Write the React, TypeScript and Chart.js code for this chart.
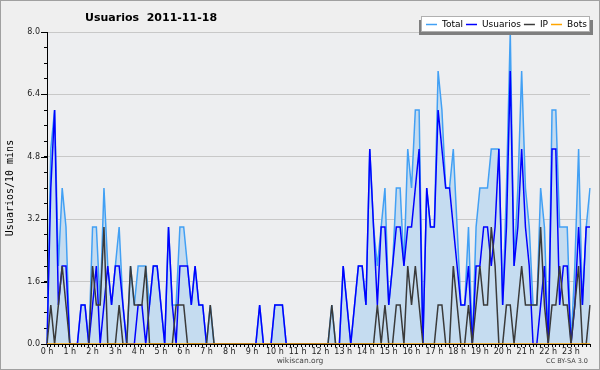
import React, { useEffect, useRef } from 'react';
import { Chart, registerables } from 'chart.js';

Chart.register(...registerables);

const chartTitle = 'Usuarios  2011-11-18';
const yTitle = 'Usuarios/10 mins';
const hours = ['0 h','1 h','2 h','3 h','4 h','5 h','6 h','7 h','8 h','9 h','10 h','11 h','12 h','13 h','14 h','15 h','16 h','17 h','18 h','19 h','20 h','21 h','22 h','23 h'];
const minutes = ['00','10','20','30','40','50'];
const slots = hours.flatMap((_, h) => minutes.map((m) => `${h}:${m}`));
const yTickLabels = ['0.0','1.6','3.2','4.8','6.4','8.0'];
const yMajorValues = [0, 1.6, 3.2, 4.8, 6.4, 8.0];

const total = [
  0,5,6,2,4,3,0,0,0,1,
  1,0,3,3,1,4,2,1,2,3,
  1,0,2,1,2,2,2,1,2,2,
  1,0,3,1,1,3,3,2,1,2,
  1,1,0,1,0,0,0,0,0,0,
  0,0,0,0,0,0,1,0,0,0,
  1,1,1,0,0,0,0,0,0,0,
  0,0,0,0,0,1,0,0,2,1,
  0,1,2,2,1,5,3,2,3,4,
  1,2,4,4,2,5,4,6,6,0,
  4,3,3,7,6,4,4,5,3,1,
  1,3,0,3,4,4,4,5,5,5,
  1,4,8,2,4,7,4,3,1,1,
  4,3,0,6,6,3,3,3,0,2,
  5,1,3,4,
];

const usuarios = [
  0,4,6,1,2,2,0,0,0,1,
  1,0,1,2,0,1,2,1,2,2,
  1,0,0,0,1,1,0,1,2,2,
  1,0,3,1,0,2,2,2,1,2,
  1,1,0,0,0,0,0,0,0,0,
  0,0,0,0,0,0,1,0,0,0,
  1,1,1,0,0,0,0,0,0,0,
  0,0,0,0,0,0,0,0,2,1,
  0,1,2,2,1,5,3,1,3,3,
  1,2,3,3,2,3,3,4,5,0,
  4,3,3,6,5,4,4,3,2,1,
  1,2,0,2,2,3,3,2,3,5,
  1,3,7,2,3,5,3,2,0,0,
  1,2,0,5,5,1,2,2,0,1,
  3,1,3,3,
];

const ip = [
  0,1,0,1,2,1,0,0,0,0,
  0,0,2,1,1,3,0,0,0,1,
  0,0,2,1,1,1,2,0,0,0,
  0,0,0,0,1,1,1,0,0,0,
  0,0,0,1,0,0,0,0,0,0,
  0,0,0,0,0,0,0,0,0,0,
  0,0,0,0,0,0,0,0,0,0,
  0,0,0,0,0,1,0,0,0,0,
  0,0,0,0,0,0,0,1,0,1,
  0,0,1,1,0,2,1,2,1,0,
  0,0,0,1,1,0,0,2,1,0,
  0,1,0,1,2,1,1,3,2,0,
  0,1,1,0,1,2,1,1,1,1,
  3,1,0,1,1,2,1,1,0,1,
  2,0,0,1,
];

const bots = [
  0,0,0,0,0,0,0,0,0,0,
  0,0,0,0,0,0,0,0,0,0,
  0,0,0,0,0,0,0,0,0,0,
  0,0,0,0,0,0,0,0,0,0,
  0,0,0,0,0,0,0,0,0,0,
  0,0,0,0,0,0,0,0,0,0,
  0,0,0,0,0,0,0,0,0,0,
  0,0,0,0,0,0,0,0,0,0,
  0,0,0,0,0,0,0,0,0,0,
  0,0,0,0,0,0,0,0,0,0,
  0,0,0,0,0,0,0,0,0,0,
  0,0,0,0,0,0,0,0,0,0,
  0,0,0,0,0,0,0,0,0,0,
  0,0,0,0,0,0,0,0,0,0,
  0,0,0,0,
];

const FONT = '"DejaVu Sans", sans-serif';

const framePlugin = {
  id: 'frame',
  beforeDraw(chart: any) {
    const { ctx, width, height, chartArea: a } = chart;
    ctx.save();
    ctx.fillStyle = '#efefef';
    ctx.fillRect(0, 0, width, height);
    ctx.fillStyle = '#edeef0';
    ctx.fillRect(a.left, a.top, a.right - a.left, a.bottom - a.top);
    ctx.strokeStyle = '#a0a0a0';
    ctx.lineWidth = 1;
    ctx.strokeRect(0.5, 0.5, width - 1, height - 1);
    ctx.restore();
  },
  afterDraw(chart: any) {
    const { ctx, width, chartArea: a } = chart;
    const yScale = chart.scales.y;
    ctx.save();
    // longer major tick marks on the y axis
    ctx.strokeStyle = '#000';
    ctx.lineWidth = 1;
    yMajorValues.forEach((v) => {
      const py = Math.round(yScale.getPixelForValue(v)) + 0.5;
      ctx.beginPath();
      ctx.moveTo(a.left - 6, py);
      ctx.lineTo(a.left, py);
      ctx.stroke();
    });
    // title
    ctx.fillStyle = '#000';
    ctx.font = `bold 11px ${FONT}`;
    ctx.textAlign = 'left';
    ctx.textBaseline = 'alphabetic';
    ctx.fillText(chartTitle, 85, 20.5);
    // y title
    ctx.save();
    ctx.translate(10, 188);
    ctx.rotate(-Math.PI / 2);
    ctx.font = '10px "DejaVu Sans Mono", monospace';
    ctx.textAlign = 'center';
    ctx.textBaseline = 'middle';
    ctx.fillStyle = '#000';
    ctx.fillText(yTitle, 0, 0);
    ctx.restore();
    // legend
    ctx.fillStyle = '#7f7f7f';
    ctx.fillRect(419, 20, 174, 15);
    ctx.fillStyle = '#ffffff';
    ctx.fillRect(422, 17, 167, 14.5);
    ctx.strokeStyle = '#b0b0b0';
    ctx.strokeRect(421.5, 16.5, 168, 15);
    ctx.font = `9px ${FONT}`;
    ctx.textBaseline = 'middle';
    ctx.textAlign = 'left';
    let x = 426;
    chart.data.datasets.forEach((ds: any) => {
      ctx.strokeStyle = ds.borderColor;
      ctx.lineWidth = 1.5;
      ctx.beginPath();
      ctx.moveTo(x, 24.5);
      ctx.lineTo(x + 11, 24.5);
      ctx.stroke();
      x += 16;
      ctx.fillStyle = '#000';
      ctx.fillText(ds.label, x, 24.5);
      x += ctx.measureText(ds.label).width + 3;
    });
    // footer
    ctx.fillStyle = '#444';
    ctx.font = `7.5px ${FONT}`;
    ctx.textAlign = 'center';
    ctx.fillText('wikiscan.org', width / 2, 361);
    ctx.font = `6.5px ${FONT}`;
    ctx.textAlign = 'right';
    ctx.fillText('CC BY-SA 3.0', 588, 361);
    ctx.restore();
  },
};

export default function App() {
  const ref = useRef<HTMLCanvasElement | null>(null);
  useEffect(() => {
    if (!ref.current) return;
    const chart = new Chart(ref.current, {
      type: 'line',
      data: {
        labels: slots,
        datasets: [
          { label: 'Total', data: total, borderColor: '#42a0f4', backgroundColor: '#c5dcf0', fill: 'origin', borderWidth: 1.5, pointRadius: 0, tension: 0, order: 4 },
          { label: 'Usuarios', data: usuarios, borderColor: '#0000ff', borderWidth: 1.5, pointRadius: 0, tension: 0, fill: false, order: 3 },
          { label: 'IP', data: ip, borderColor: '#3a3a3a', borderWidth: 1.5, pointRadius: 0, tension: 0, fill: false, order: 2 },
          { label: 'Bots', data: bots, borderColor: '#ffa500', borderWidth: 1.5, pointRadius: 0, tension: 0, fill: false, order: 1 },
        ],
      },
      options: {
        responsive: false,
        animation: false,
        devicePixelRatio: 1,
        layout: { padding: { top: 32, right: 10, left: 0, bottom: 0 } },
        plugins: { legend: { display: false }, title: { display: false }, tooltip: { enabled: false } },
        scales: {
          x: {
            type: 'category',
            offset: false,
            z: 1,
            afterFit: (s: any) => { s.height = 26; },
            grid: { display: true, drawOnChartArea: false, drawTicks: true, tickLength: 3, tickColor: '#000' },
            border: { display: true, color: '#000', width: 1 },
            ticks: {
              autoSkip: false,
              maxRotation: 0,
              minRotation: 0,
              padding: 0,
              color: '#222',
              font: { family: '"DejaVu Sans"', size: 8 },
              callback: (_v: any, index: number) => (index % 6 === 0 ? hours[index / 6] : ''),
            },
          },
          y: {
            min: 0,
            max: 8,
            afterFit: (s: any) => { s.width = 47; },
            grid: {
              drawTicks: true,
              tickLength: 3,
              tickColor: '#000',
              color: (c: any) => {
                const k = Math.round(Number(c.tick?.value ?? 0) / 0.4);
                return k % 4 === 0 && k > 0 ? '#c8c8c8' : 'rgba(0,0,0,0)';
              },
            },
            border: { display: true, color: '#000', width: 1 },
            ticks: {
              stepSize: 0.4,
              autoSkip: false,
              padding: 4,
              color: '#222',
              font: { family: '"DejaVu Sans"', size: 8 },
              callback: (v: any) => {
                const k = Math.round(Number(v) / 0.4);
                return k % 4 === 0 ? yTickLabels[k / 4] : '';
              },
            },
          },
        },
      },
      plugins: [framePlugin],
    });
    return () => chart.destroy();
  }, []);
  return (
    <div style={{ position: 'fixed', left: 0, top: 0, width: 600, height: 370 }}>
      <canvas ref={ref} width={600} height={370} style={{ width: 600, height: 370, display: 'block' }} />
    </div>
  );
}
